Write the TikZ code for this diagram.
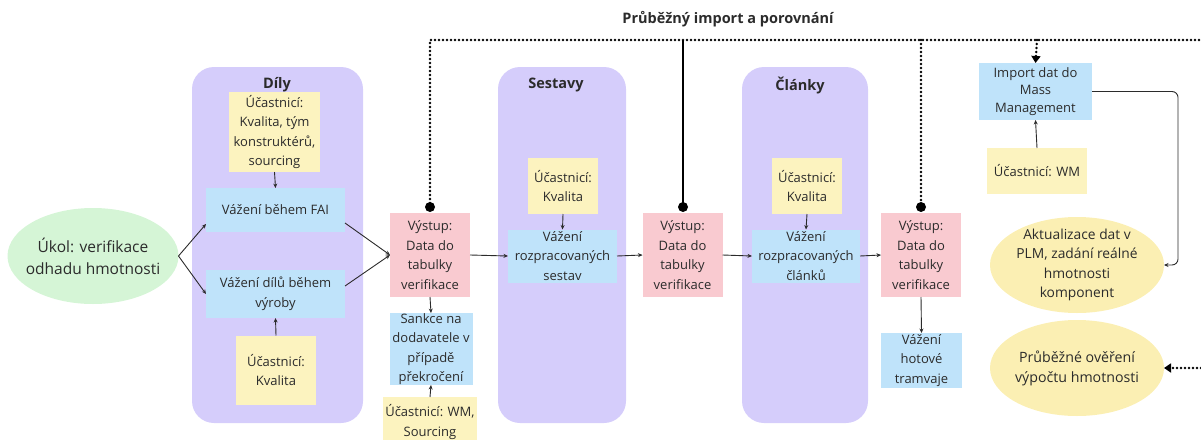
\documentclass[tikz,border=0pt]{standalone}
\usepackage{fontspec}
\setmainfont{Open Sans}
\usetikzlibrary{arrows.meta,shapes.geometric,calc}
\definecolor{lav}{HTML}{D5CDFB}
\definecolor{sticky}{HTML}{FCF3BF}
\definecolor{bluebox}{HTML}{BFE3FA}
\definecolor{pinkbox}{HTML}{F9CAD0}
\definecolor{greenell}{HTML}{D5F5D6}
\definecolor{yellell}{HTML}{FBEFB3}
\definecolor{ink}{HTML}{2B2B2B}
\begin{document}
\begin{tikzpicture}[x=1pt,y=-1pt,
  every node/.style={inner sep=0pt, outer sep=0pt, align=center, text=ink,
    font=\fontsize{13}{19.5}\selectfont},
  lane/.style={fill=lav, rounded corners=22pt, minimum width=#1, minimum height=356pt},
  lanetitle/.style={font=\fontsize{14.5}{17}\selectfont\bfseries},
  sticky/.style={fill=sticky, minimum width=#1},
  bbox/.style={fill=bluebox, minimum width=#1},
  pbox/.style={fill=pinkbox, minimum width=80pt, minimum height=84pt},
  ell/.style={ellipse, fill=#1, minimum width=174pt, minimum height=96pt,
    inner xsep=-9pt, inner ysep=-6pt},
  arr/.style={draw=ink, line width=0.9pt, -{Stealth[length=4.5pt,width=4pt]}},
  dotline/.style={draw=black, line width=2.6pt, dash pattern=on 0pt off 4pt, line cap=round},
  solidline/.style={draw=black, line width=1.6pt},
  blob/.style={circle, fill=black, minimum size=10pt},
  dtip/.style={-{Triangle[length=7pt,width=9pt]}}
]
\useasboundingbox (0,0) rectangle (1201,439);

% lanes
\node[lane=171pt] (lDily) at (277.5,245) {};
\node[lane=128pt] (lSest) at (562,245) {};
\node[lane=126pt] (lClan) at (805,245) {};
\node[lanetitle] (tDily) at (277,85) {Díly};
\node[lanetitle] (tSest) at (556,85) {Sestavy};
\node[lanetitle] (tClan) at (800,85) {Články};

% title
\node[lanetitle] (title) at (728,19) {Průběžný import a porovnání};

% left ellipse
\node[ell=greenell, minimum width=171pt, font=\fontsize{15.5}{22}\selectfont] (ukol) at (93,256) {Úkol: verifikace\\odhadu hmotnosti};

% Díly
\node[sticky=91pt, minimum height=80pt] (y1) at (274.5,132) {Účastnicí:\\Kvalita, tým\\konstruktérů,\\sourcing};
\node[bbox=139pt, minimum height=44pt] (fai) at (275.5,210) {Vážení během FAI};
\node[bbox=139pt, minimum height=48pt] (dilu) at (275.5,294) {Vážení dílů během\\výroby};
\node[sticky=80pt, minimum height=69pt] (y2) at (276,370) {Účastnicí:\\Kvalita};

% Výstup 1
\node[pbox] (v1) at (430,255) {Výstup:\\Data do\\tabulky\\verifikace};
\node[bbox=83pt, minimum height=72pt] (sank) at (431,349) {Sankce na\\dodavatele v\\případě\\překročení};
\node[sticky=94pt, minimum height=50pt] (y3) at (430,422) {Účastnicí: WM,\\Sourcing};

% Sestavy
\node[sticky=70pt, minimum height=56pt] (y4) at (563,186) {Účastnicí:\\Kvalita};
\node[bbox=109pt, minimum height=53pt] (sb) at (562.5,256) {Vážení\\rozpracovaných\\sestav};
\node[pbox] (v2) at (682.5,255) {Výstup:\\Data do\\tabulky\\verifikace};

% Články
\node[sticky=70pt, minimum height=56pt] (y5) at (807,186) {Účastnicí:\\Kvalita};
\node[bbox=108pt, minimum height=53pt] (cb) at (806,256) {Vážení\\rozpracovaných\\článků};
\node[pbox] (v3) at (921,255) {Výstup:\\Data do\\tabulky\\verifikace};
\node[bbox=81pt, minimum height=55pt] (tram) at (921.5,360.5) {Vážení\\hotové\\tramvaje};

% right column
\node[bbox=113pt, minimum height=57pt, font=\fontsize{13}{17.5}\selectfont] (imp) at (1035.5,91.5) {Import dat do\\Mass\\Management};
\node[sticky=100pt, minimum height=46pt] (y6) at (1037,171) {Účastnicí: WM};
\node[ell=yellell, font=\fontsize{13.8}{19.5}\selectfont] (akt) at (1077,265) {Aktualizace dat v\\PLM, zadání reálné\\hmotnosti\\komponent};
\node[ell=yellell, font=\fontsize{14.2}{20}\selectfont] (prub) at (1077,368) {Průběžné ověření\\výpočtu hmotnosti};

% blobs
\node[blob] (d1) at (430,207) {};
\node[blob] (d2) at (683,207) {};
\node[blob] (d3) at (921,207) {};

% connectors
\draw[arr] (ukol.east) -- ([yshift=-14pt]fai.west);
\draw[arr] (ukol.east) -- (dilu.west);
\draw[arr] ([yshift=-13pt]fai.east) -- (v1.west);
\draw[arr] ([yshift=8pt]dilu.east) -- (v1.west);
\draw[arr] (y1.south) -- (fai.north);
\draw[arr] (y2.north) -- (dilu.south);
\draw[arr] (v1.south) -- (sank.north);
\draw[arr] (y3.north) -- (sank.south);
\draw[arr] (v1.east) -- (sb.west);
\draw[arr] (y4.south) -- (sb.north);
\draw[arr] (sb.east) -- (v2.west);
\draw[arr] (v2.east) -- (cb.west);
\draw[arr] (y5.south) -- (cb.north);
\draw[arr] (cb.east) -- (v3.west);
\draw[arr] (v3.south) -- (tram.north);
\draw[arr] (y6.north) -- (imp.south);
\draw[arr, rounded corners=6pt] (imp.east) -- ++(86,0) |- (akt.east);

% top import line
\coordinate (c1) at (430,40);
\coordinate (rEnd) at (1201,40);
\coordinate (j2) at (683,40);
\coordinate (j3) at (921,40);
\coordinate (j4) at (1037,40);
\coordinate (rEnd2) at (1201,368);
\draw[dotline] (d1.center) -- (c1) -- (rEnd);
\draw[solidline] (j2) -- (d2.center);
\draw[dotline] (j3) -- (d3.center);
\draw[dotline, dtip] (j4) -- (imp.north);
\draw[dotline, dtip] (rEnd2) -- (prub.east);
\end{tikzpicture}
\end{document}
